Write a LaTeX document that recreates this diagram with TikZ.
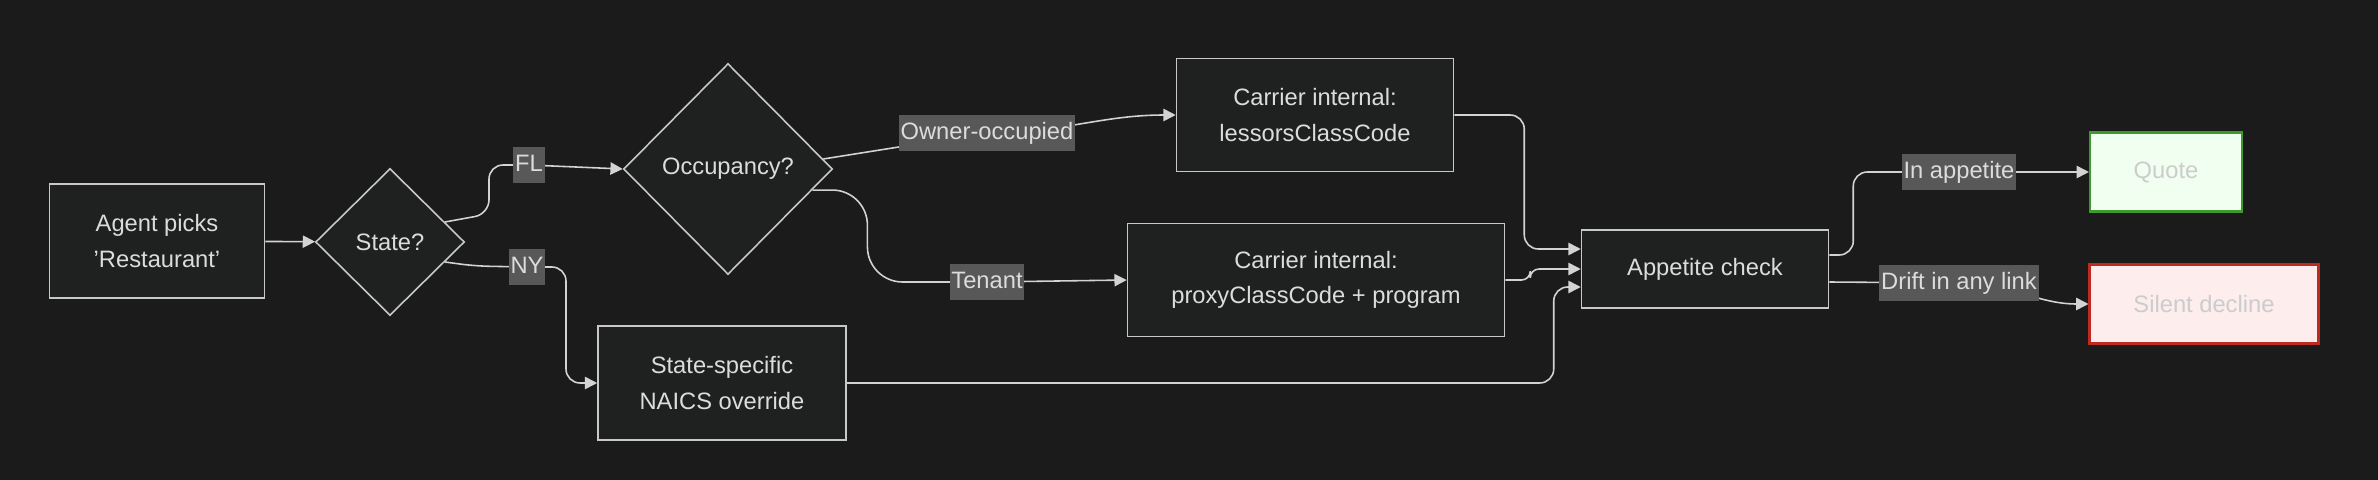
\documentclass[tikz,border=0pt]{standalone}
\usepackage{fontspec}
\setmainfont{Liberation Sans}
\usetikzlibrary{shapes.geometric,arrows.meta}

\definecolor{canvas}{HTML}{1B1B1B}
\definecolor{boxfill}{HTML}{1F2121}
\definecolor{boxline}{HTML}{C8C8C8}
\definecolor{wire}{HTML}{D3D3D3}
\definecolor{txt}{HTML}{DCDCDC}
\definecolor{tagfill}{HTML}{585858}
\definecolor{okfill}{HTML}{F0FFF0}
\definecolor{okline}{HTML}{3E9A2C}
\definecolor{nofill}{HTML}{FDEDED}
\definecolor{noline}{HTML}{BF2A20}
\definecolor{faint}{HTML}{CCCCCC}

\pgfdeclarelayer{wires}
\pgfsetlayers{wires,main}

\tikzset{
  proc/.style={draw=boxline, fill=boxfill, line width=0.9pt, text=txt, align=center,
    font=\fontsize{13.5}{20}\selectfont, inner sep=0pt},
  dec/.style={proc, diamond, aspect=1},
  tag/.style={fill=tagfill, text=txt, font=\fontsize{13.5}{20}\selectfont,
    inner xsep=1pt, inner ysep=3.6pt, text height=10pt, text depth=3pt},
  good/.style={proc, fill=okfill, draw=okline, line width=1.2pt, text=faint},
  bad/.style={proc, fill=nofill, draw=noline, line width=1.2pt, text=faint},
  arr/.style={draw=wire, line width=0.9pt, -{Triangle[length=7pt,width=7pt]}},
}

\begin{document}
\begin{tikzpicture}[x=0.02cm, y=-0.02cm]
  \useasboundingbox (0,0) rectangle (2378,480);

  \node[proc, minimum width=4.3cm, minimum height=2.28cm] (agent) at (157,241) {Agent picks\\'Restaurant'};
  \node[dec, minimum width=2.98cm, minimum height=2.94cm] (state) at (390,242) {State?};
  \node[dec, minimum width=4.18cm, minimum height=4.22cm] (occ) at (728,169) {Occupancy?};
  \node[proc, minimum width=5.54cm, minimum height=2.26cm] (less) at (1315,115) {Carrier internal:\\lessorsClassCode};
  \node[proc, minimum width=7.54cm, minimum height=2.26cm] (proxy) at (1316,280) {Carrier internal:\\proxyClassCode + program};
  \node[proc, minimum width=4.96cm, minimum height=2.28cm] (ss) at (722,383) {State-specific\\NAICS override};
  \node[proc, minimum width=4.94cm, minimum height=1.56cm] (app) at (1705,269) {Appetite check};
  \node[good, minimum width=3.04cm, minimum height=1.58cm] (quote) at (2166,172) {Quote};
  \node[bad, minimum width=4.58cm, minimum height=1.58cm] (silent) at (2204,304) {Silent decline};

  \node[tag] (fl) at (529,165) {FL};
  \node[tag] (ny) at (527,267) {NY};
  \node[tag] (own) at (987,133) {Owner-occupied};
  \node[tag] (ten) at (987,282) {Tenant};
  \node[tag] (inapp) at (1959,172) {In appetite};
  \node[tag] (drift) at (1959,283) {Drift in any link};

  \begin{pgfonlayer}{wires}
    \fill[canvas] (0,0) rectangle (2378,480);
    \draw[arr] (agent) -- (state);
    \draw[arr, rounded corners=8] (state.20) -- ++(44,-8) |- (fl.center) -- (occ.west);
    \draw[arr, rounded corners=8] (state.-20) -- ++(30,4) -- (ny.center) -- ++(39,0) |- (ss.west);
    \draw[arr] (occ.6) -- (own.center) to[out=0, in=180] (less.west);
    \draw[arr, rounded corners=20] (occ.-14) -- ++(55,0) |- (ten.center) -- (proxy.west);
    \draw[arr, rounded corners=8] (less.east) -- ++(70,0) |- ([yshift=0.4cm]app.west);
    \draw[arr, rounded corners=5] (proxy.east) -- ++(25,0) |- (app.west);
    \draw[arr, rounded corners=8] (ss.east) -| ([xshift=-0.54cm, yshift=-0.36cm]app.west) -- ([yshift=-0.36cm]app.west);
    \draw[arr, rounded corners=8] ([yshift=0.28cm]app.east) -- ++(24,0) |- (inapp.center) -- (quote.west);
    \draw[arr] ([yshift=-0.26cm]app.east) -- (drift.center) to[out=0, in=180] (silent.west); %
  \end{pgfonlayer}
\end{tikzpicture}
\end{document}
